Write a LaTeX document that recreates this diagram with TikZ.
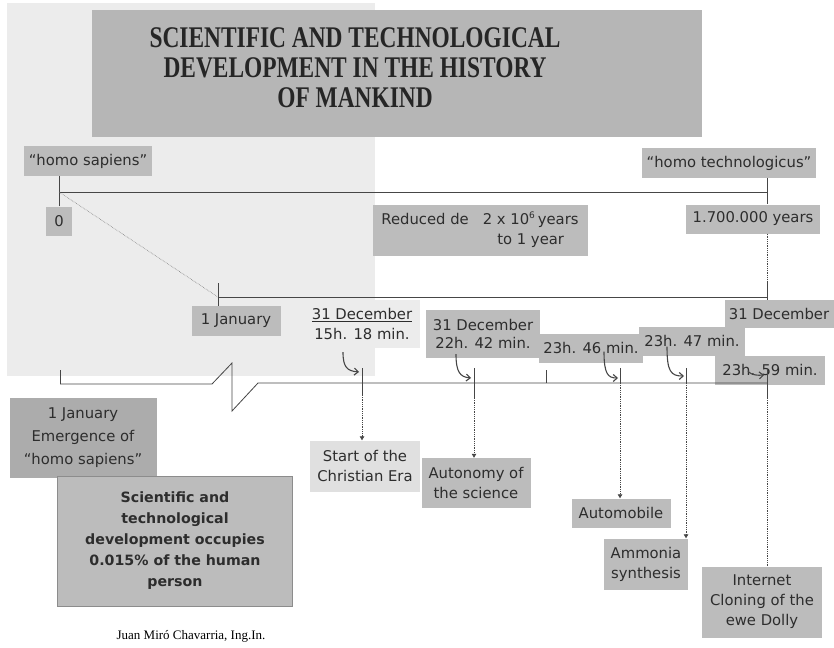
\documentclass[tikz,border=0pt]{standalone}
\usepackage{fontspec}
\usepackage{graphicx}
\setmainfont{Liberation Serif}
\newfontfamily\labelfont{DejaVu Sans}
\usetikzlibrary{arrows.meta}

\definecolor{bggray}{RGB}{236,236,236}
\definecolor{titlegray}{RGB}{182,182,182}
\definecolor{boxgray}{RGB}{188,188,188}
\definecolor{darkbox}{RGB}{172,172,172}
\definecolor{palebox}{RGB}{224,224,224}
\definecolor{txtgray}{RGB}{45,45,45}
\definecolor{linegray}{RGB}{70,70,70}

\begin{document}
\begin{tikzpicture}[
  x=1pt, y=-1pt,
  every node/.style={font=\labelfont\fontsize{14.8}{20}\selectfont, text=txtgray},
  tag/.style={fill=boxgray, align=center, inner sep=0pt, minimum height=29pt},
  tick/.style={draw=linegray, line width=0.8pt},
  drop/.style={draw=linegray, densely dotted, line width=0.8pt, -{Triangle[length=4pt, width=4.5pt]}},
  hook/.style={draw=linegray, line width=1.1pt, -{Straight Barb[length=4pt, width=7pt]}},
]

\useasboundingbox (0,0) rectangle (834,647);

% light panel and title
\fill[bggray] (7,3) rectangle (375,376);
\fill[titlegray] (92,10) rectangle (702,137);
\node[font=\rmfamily\bfseries\fontsize{30}{30}\selectfont, text=black!85] (title) at (355,72) {%
  \scalebox{0.78}[1]{\begin{tabular}{@{}c@{}}SCIENTIFIC AND TECHNOLOGICAL\\DEVELOPMENT IN THE HISTORY\\OF MANKIND\end{tabular}}};

% upper scale
\node[tag, minimum width=128pt, minimum height=30pt] (hs) at (88,161) {“homo sapiens”};
\node[tag, minimum width=26pt] (zero) at (59,221) {0};
\node[tag, minimum width=174pt, minimum height=30pt] (ht) at (729,163) {“homo technologicus”};
\node[tag, minimum width=134pt] (yrs) at (753,219) {1.700.000 years};
\node[tag, minimum width=215pt, minimum height=51pt] (red) at (480,230) {%
  \begin{tabular}{@{}l@{\hspace{14pt}}c@{}}Reduced de & 2 x 10\textsuperscript{\fontsize{9}{9}\selectfont 6}\,years\\ & to 1 year\end{tabular}};
\node[tag, minimum width=89pt, minimum height=30pt] (jan) at (236,321) {1 January};

\coordinate (s0) at (59,192);
\coordinate (s1) at (767,192);
\coordinate (j0) at (218,297);
\coordinate (j1) at (767,297);

\draw[tick] (zero.north) -- (zero.north |- hs.south);
\draw[tick] (s0) -- (s1);
\draw[tick] (s1 |- ht.south) -- (s1 |- yrs.north);
\draw[tick, densely dotted, line width=0.5pt] (s1 |- yrs.south) -- ([yshift=15pt]j1);
\draw[tick] ([yshift=15pt]j1) -- (j1);
\draw[tick] (j0) -- (j1);
\draw[tick] ([yshift=14pt]j0) -- (j0 |- jan.north);
\draw[gray, densely dotted, line width=0.6pt] (s0) -- (j0);

% day labels
\node[fill=bggray, align=center, inner sep=0pt, minimum width=115pt, minimum height=48pt] (d15) at (362,324) {\underline{31 December}\\15h. 18 min.};
\node[tag, minimum width=114pt, minimum height=48pt, font=\labelfont\fontsize{14.8}{18}\selectfont] (d22) at (483,334) {31 December\\22h. 42 min.};
\node[tag, minimum width=104pt] (m46) at (591,348) {23h. 46 min.};
\node[tag, minimum width=106pt] (m47) at (692,341) {23h. 47 min.};
\node[tag, minimum width=109pt, minimum height=28pt] (d31) at (779,314) {31 December};
\node[tag, minimum width=110pt] (m59) at (770,370) {23h. 59 min.};
\draw[tick] (d31.north -| j1) -- (j1);

% lower scale with break
\coordinate (b0) at (60,384);
\coordinate (b1) at (767,383);
\draw[tick] (b0) -- (212,384) -- (232,363) -- (232,411) -- (258,383) -- (b1);
\draw[tick] (b0) -- ++(0,-14);

% events
\node[fill=palebox, align=center, inner sep=0pt, minimum width=110pt, minimum height=51pt] (era) at (365,466) {Start of the\\Christian Era};
\node[tag, minimum width=109pt, minimum height=50pt] (auton) at (476,483) {Autonomy of\\the science};
\node[tag, minimum width=99pt] (car) at (621,513) {Automobile};
\node[tag, minimum width=84pt, minimum height=51pt] (nh3) at (646,564) {Ammonia\\synthesis};
\node[tag, minimum width=120pt, minimum height=71pt] (dolly) at (762,602) {Internet\\Cloning of the\\ewe Dolly};

\coordinate (t15) at (362,368);
\coordinate (t22) at (474,368);
\coordinate (tx) at (546,370);
\coordinate (t46) at (620,368);
\coordinate (t47) at (686,368);
\coordinate (t59) at (767,370);

\draw[tick] (t15) -- ++(0,27) coordinate (e15);
\draw[drop] (e15) -- (era.north -| e15);
\draw[tick] (t22) -- ++(0,30) coordinate (e22);
\draw[drop] (e22) -- (auton.north -| e22);
\draw[tick] (tx) -- ++(0,13);
\draw[tick] (t46) -- ++(0,15) coordinate (e46);
\draw[drop] (e46) -- (car.north -| e46);
\draw[tick] (t47) -- ++(0,15) coordinate (e47);
\draw[drop] (e47) -- (nh3.north -| e47);
\draw[tick] (t59) -- ++(0,28) coordinate (e59);
\draw[tick, densely dotted, line width=0.5pt] (e59) -- (dolly.north -| e59);

% curved pointers
\draw[hook] ([xshift=-19pt, yshift=-4pt]d15.south) .. controls (343,367) and (347,371) .. (359,372);
\draw[hook] ([xshift=-27pt, yshift=4pt]d22.south) .. controls (456,372) and (460,377) .. (471,378);
\draw[hook] ([xshift=13pt, yshift=11pt]m46.south) .. controls (604,374) and (608,378) .. (618,378);
\draw[hook] ([xshift=-25pt, yshift=9pt]m47.south) .. controls (667,372) and (671,376) .. (684,376);
\draw[hook] ([xshift=-22pt, yshift=14pt]m59.south) .. controls (748,372) and (752,376) .. (764,375);

% notes
\node[fill=darkbox, align=center, inner sep=0pt, minimum width=147pt, minimum height=80pt, font=\labelfont\fontsize{14.8}{23}\selectfont] (emerg) at (83,438) {1 January\\Emergence of\\“homo sapiens”};
\node[fill=boxgray, draw=black!45, line width=1pt, align=center, inner sep=0pt, minimum width=235pt, minimum height=130pt,
  font=\labelfont\bfseries\fontsize{14.2}{21}\selectfont] (share) at (175,541) {Scientific and\\technological\\development occupies\\0.015\% of the human\\person};
\node[font=\rmfamily\fontsize{13}{15}\selectfont, text=black] (author) at (191,636) {Juan Miró Chavarria, Ing.In.};

\end{tikzpicture}
\end{document}
